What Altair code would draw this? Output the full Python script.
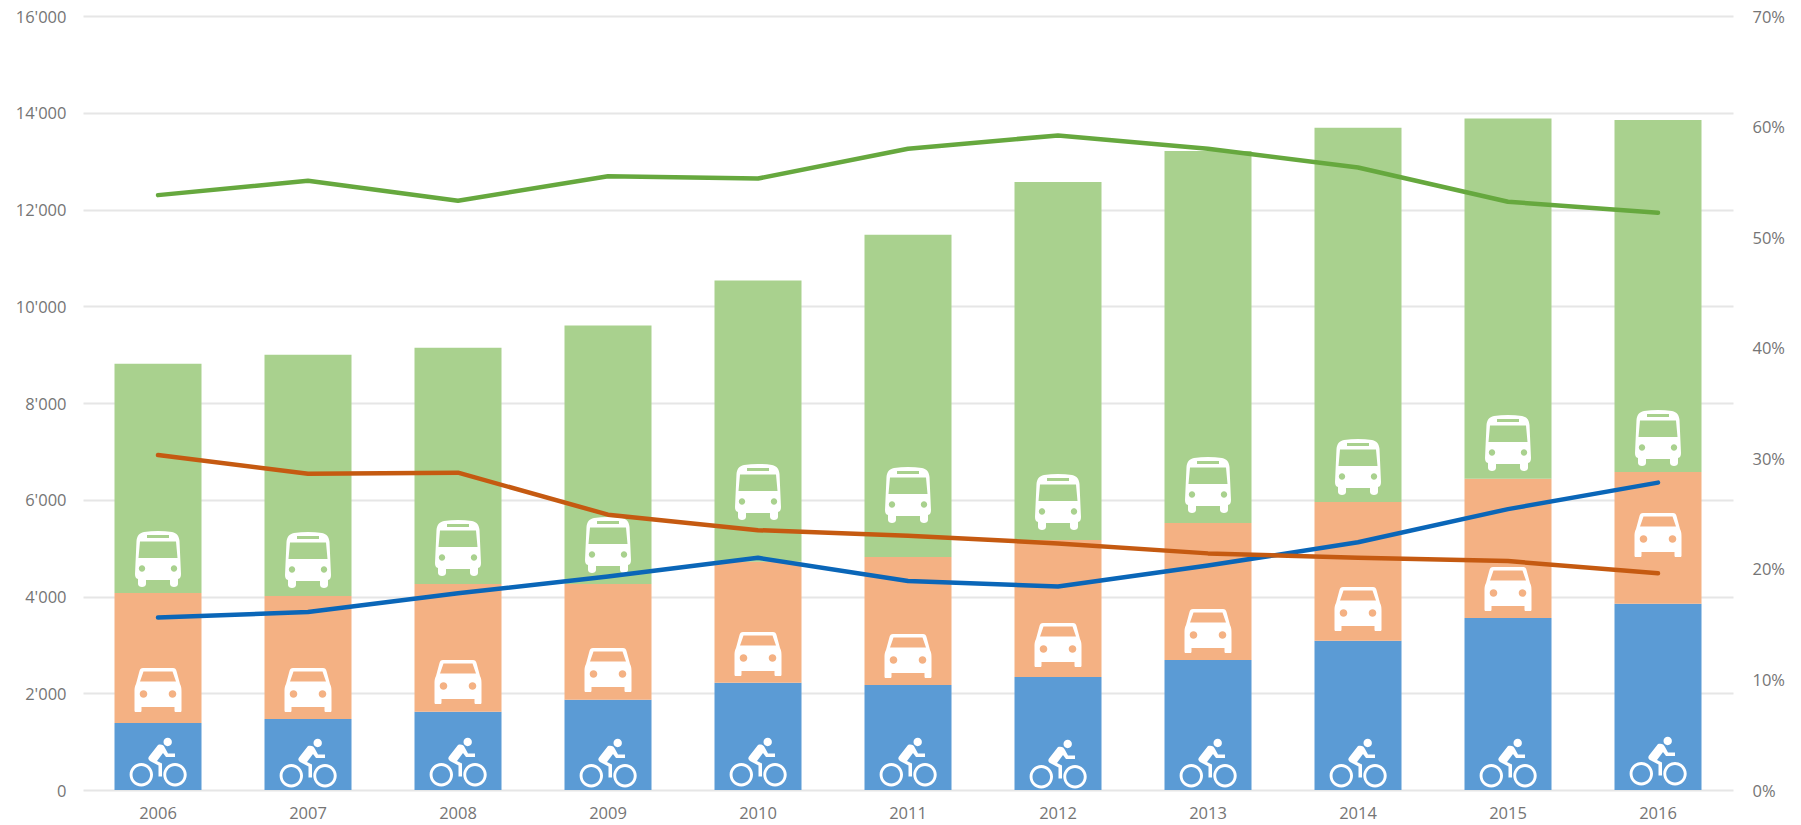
import altair as alt
import pandas as pd

years = ["2006", "2007", "2008", "2009", "2010", "2011", "2012", "2013", "2014", "2015", "2016"]
bike = [1385, 1468, 1618, 1866, 2218, 2170, 2336, 2687, 3086, 3555, 3851]
car = [2687, 2542, 2640, 2392, 2501, 2646, 2832, 2832, 2867, 2880, 2722]
bus = [4738, 4990, 4882, 5342, 5811, 6664, 7402, 7691, 7737, 7445, 7277]
share_bike = [0.156, 0.161, 0.178, 0.193, 0.210, 0.189, 0.184, 0.203, 0.224, 0.254, 0.278]
share_car = [0.303, 0.286, 0.287, 0.249, 0.235, 0.230, 0.223, 0.214, 0.210, 0.207, 0.196]
share_bus = [0.538, 0.551, 0.533, 0.555, 0.553, 0.580, 0.592, 0.580, 0.563, 0.532, 0.522]
bus_icon_at = [4775, 4754, 5002, 5064, 6160, 6098, 5953, 6304, 6676, 7172, 7276]
car_icon_at = [2067, 2067, 2232, 2480, 2811, 2770, 2997, 3287, 3741, 4155, 5271]
bike_icon_at = [579, 558, 579, 558, 579, 579, 537, 558, 558, 558, 599]

BAR_BLUE, BAR_ORANGE, BAR_GREEN = "#5B9BD5", "#F4B183", "#A9D18E"
LINE_BLUE, LINE_ORANGE, LINE_GREEN = "#0A66B8", "#C55A11", "#66A83E"
GRID = "#E6E6E6"
TEXT = "#757575"
FONT = "Open Sans"


def circle(cx, cy, r, hole=False):
    k = 0.5523 * r
    if hole:
        return (f"M{cx},{cy-r} C{cx-k},{cy-r} {cx-r},{cy-k} {cx-r},{cy} "
                f"C{cx-r},{cy+k} {cx-k},{cy+r} {cx},{cy+r} "
                f"C{cx+k},{cy+r} {cx+r},{cy+k} {cx+r},{cy} "
                f"C{cx+r},{cy-k} {cx+k},{cy-r} {cx},{cy-r} Z ")
    return (f"M{cx},{cy-r} C{cx+k},{cy-r} {cx+r},{cy-k} {cx+r},{cy} "
            f"C{cx+r},{cy+k} {cx+k},{cy+r} {cx},{cy+r} "
            f"C{cx-k},{cy+r} {cx-r},{cy+k} {cx-r},{cy} "
            f"C{cx-r},{cy-k} {cx-k},{cy-r} {cx},{cy-r} Z ")


BUS_SHAPE = (
    "M-14,-27 C-5,-28.5 5,-28.5 14,-27 C19,-26 21,-23 21.5,-18 L23,15 C23,18 22,19.5 20,20 "
    "L20,25 C20,27 18,28 16,28 C14,28 12,27 12,25 L12,21 L-12,21 L-12,25 "
    "C-12,27 -14,28 -16,28 C-18,28 -20,27 -20,25 L-20,20 C-22,19.5 -23,18 -23,15 "
    "L-21.5,-18 C-21,-23 -19,-26 -14,-27 Z "
    "M-18,-17.5 L-19.5,-1 L19.5,-1 L18,-17.5 Z "
    "M-11,-24 L-11,-21 L11,-21 L11,-24 Z "
    + circle(-16, 9.5, 3.2, True) + circle(16, 9.5, 3.2, True)
)
CAR_SHAPE = (
    "M-15,-22 L15,-22 C17,-22 18,-21 18.5,-19 L22,-6 C23.5,-3 23.5,-1 23.5,2 L23.5,20.5 "
    "C23.5,21.5 23,22 22,22 L18,22 C17,22 16.5,21.5 16.5,20.5 L16.5,17 L-16.5,17 L-16.5,20.5 "
    "C-16.5,21.5 -17,22 -18,22 L-22,22 C-23,22 -23.5,21.5 -23.5,20.5 L-23.5,2 "
    "C-23.5,-1 -23.5,-3 -22,-6 L-18.5,-19 C-18,-21 -17,-22 -15,-22 Z "
    "M-14.5,-18.5 L-18,-8.5 L18,-8.5 L14.5,-18.5 Z "
    + circle(-14.5, 4, 3.8, True) + circle(14.5, 4, 3.8, True)
)
BIKE_SHAPE = (
    circle(-16.7, 12.7, 11.7) + circle(-16.7, 12.7, 8.8, True)
    + circle(17, 12.7, 11.7) + circle(17, 12.7, 8.8, True)
    + circle(9.7, -20, 4.2)
    + "M0,-17 C3,-18 6,-17 7,-14 L10,-8.5 L17,-8.5 L17,-5 L8,-5 L5,-9 L-1,-1 L4,1.5 L4,14.5 "
      "L0.5,14.5 L0.5,3.5 L-8,-1 C-10,-2.5 -10,-4 -9,-5.5 Z"
)

bars_df = pd.DataFrame(
    [{"year": y, "mode": m, "rank": r, "trips": v}
     for r, (m, vals) in enumerate([("bike", bike), ("car", car), ("bus", bus)])
     for y, v in zip(years, vals)]
)
lines_df = pd.DataFrame(
    [{"year": y, "mode": m, "share": v}
     for m, vals in [("bike", share_bike), ("car", share_car), ("bus", share_bus)]
     for y, v in zip(years, vals)]
)

x = alt.X(
    "year:N",
    title=None,
    scale=alt.Scale(paddingInner=0.42, paddingOuter=0.21),
    axis=alt.Axis(
        labelAngle=0, ticks=False, domain=False, labelPadding=15, labelFontSize=16.5,
        labelColor=TEXT, labelFont=FONT,
    ),
)
left_scale = alt.Scale(domain=[0, 16000], nice=False)
left_axis = alt.Axis(
    values=list(range(0, 16001, 2000)),
    labelExpr="replace(format(datum.value, ','), ',', \"'\")",
    grid=True, gridColor=GRID, gridWidth=2, ticks=False, domain=False,
    labelPadding=17, labelOffset=1, labelFontSize=16.5, labelColor=TEXT, labelFont=FONT,
)

bars = alt.Chart(bars_df).mark_bar(cornerRadius=0).encode(
    x=x,
    y=alt.Y("trips:Q", title=None, stack="zero", scale=left_scale, axis=left_axis),
    color=alt.Color(
        "mode:N",
        legend=None,
        scale=alt.Scale(domain=["bike", "car", "bus"], range=[BAR_BLUE, BAR_ORANGE, BAR_GREEN]),
    ),
    order=alt.Order("rank:Q"),
)


def icon_layer(shape, positions):
    df = pd.DataFrame({"year": years, "at": positions})
    return alt.Chart(df).mark_point(
        shape=shape, size=4, filled=True, color="white", opacity=1, strokeWidth=0
    ).encode(
        x=x,
        y=alt.Y("at:Q", title=None, scale=left_scale, axis=left_axis),
    )


left = alt.layer(
    bars,
    icon_layer(BUS_SHAPE, bus_icon_at),
    icon_layer(CAR_SHAPE, car_icon_at),
    icon_layer(BIKE_SHAPE, bike_icon_at),
)

lines = alt.Chart(lines_df).mark_line(strokeWidth=4.5, strokeCap="round", strokeJoin="round").encode(
    x=x,
    y=alt.Y(
        "share:Q",
        title=None,
        scale=alt.Scale(domain=[0, 0.7], nice=False),
        axis=alt.Axis(
            orient="right", values=[0, 0.1, 0.2, 0.3, 0.4, 0.5, 0.6, 0.7], format=".0%",
            grid=False, ticks=False, domain=False, labelPadding=19, labelOffset=1,
            labelFontSize=16.5, labelColor=TEXT, labelFont=FONT,
        ),
    ),
    color=alt.Color(
        "mode:N",
        legend=None,
        scale=alt.Scale(domain=["bike", "car", "bus"], range=[LINE_BLUE, LINE_ORANGE, LINE_GREEN]),
    ),
)

chart = (
    alt.layer(left, lines)
    .resolve_scale(y="independent", color="independent")
    .properties(
        width=1650,
        height=774,
        autosize=alt.AutoSizeParams(type="none"),
        padding={"left": 75, "top": 8, "right": 60, "bottom": 34},
        background="white",
    )
    .configure_view(stroke=None)
)

chart.save("out.html", embed_options={"renderer": "svg", "actions": False})
